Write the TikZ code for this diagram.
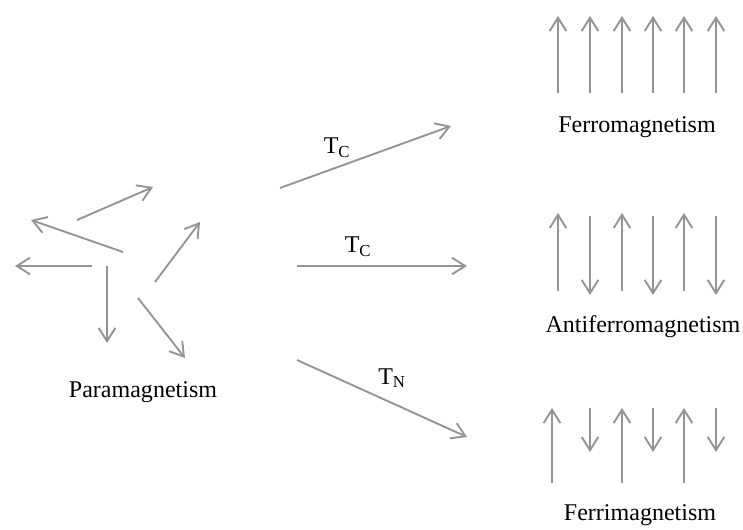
\documentclass[tikz,border=0pt]{standalone}
\usepackage{fontspec}
\setmainfont{Liberation Serif}
\usetikzlibrary{arrows.meta}

\begin{document}
\begin{tikzpicture}[
  x=0.03cm, y=-0.03cm,
  font=\fontsize{20.5}{24}\selectfont,
  spin/.style={-{Straight Barb[length=4mm, width=5mm, line width=1.6pt]}, line width=1.6pt, black!42},
  trans/.style={-{Straight Barb[length=4mm, width=5mm, line width=1.6pt]}, line width=1.6pt, black!42},
  phase/.style={inner sep=0pt, anchor=center},
  tlbl/.style={inner sep=0pt, anchor=center},
]
\useasboundingbox (0,0) rectangle (743,530);
% --- paramagnetic (random) spins ---
\draw[spin] (77,220) -- (153,187);
\draw[spin] (123,252) -- (31,220);
\draw[spin] (92,266) -- (15,266);
\draw[spin] (107,266) -- (107,343);
\draw[spin] (155,282) -- (200,222);
\draw[spin] (138,298) -- (185,358);
\node[phase] (para) at (143,392) {Paramagnetism};
% --- ferromagnetic ---
\foreach \x in {558,590,622,653,684,716}
  \draw[spin] (\x,93) -- (\x,16);
\node[phase] (ferro) at (637,127) {Ferromagnetism};
% --- antiferromagnetic ---
\foreach \x in {558,622,684}
  \draw[spin] (\x,291) -- (\x,213);
\foreach \x in {590,653,716}
  \draw[spin] (\x,216) -- (\x,295);
\node[phase] (antiferro) at (643,327) {Antiferromagnetism};
% --- ferrimagnetic ---
\foreach \x in {552,622,684}
  \draw[spin] (\x,483) -- (\x,408);
\foreach \x in {590,653,716}
  \draw[spin] (\x,408) -- (\x,452);
\node[phase] (ferri) at (640,515) {Ferrimagnetism};
% --- transitions ---
\coordinate (s1) at (280,188); \coordinate (e1) at (451,126);
\coordinate (s2) at (297,266); \coordinate (e2) at (467,266);
\coordinate (s3) at (297,360); \coordinate (e3) at (467,437);
\draw[trans] (s1) -- (e1);
\draw[trans] (s2) -- (e2);
\draw[trans] (s3) -- (e3);
\node[tlbl] (tc1) at (337,148) {T\textsubscript{C}};
\node[tlbl] (tc2) at (358,247) {T\textsubscript{C}};
\node[tlbl] (tn) at (392,378) {T\textsubscript{N}};
\end{tikzpicture}
\end{document}
